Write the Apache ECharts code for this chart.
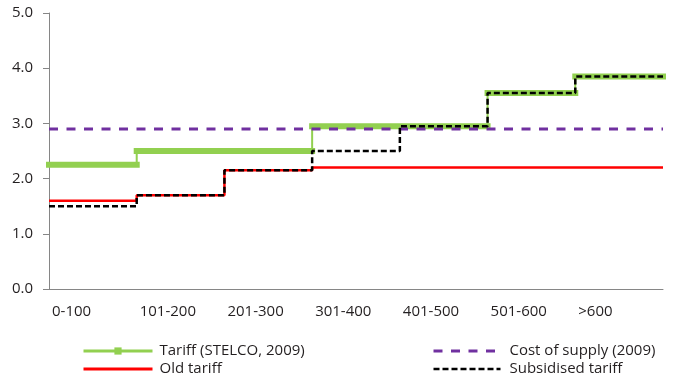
<!DOCTYPE html>
<html>
<head>
<meta charset="utf-8">
<script src="https://cdn.jsdelivr.net/npm/echarts@6/dist/echarts.min.js"></script>
<style>
  html, body { margin: 0; padding: 0; background: #fff; }
  #chart { width: 673px; height: 382px; }
</style>
</head>
<body>
<div id="chart"></div>
<script>
// Consumption bands (kWh per month) and tariffs per band
const bandLabels = ['0-100', '101-200', '201-300', '301-400', '401-500', '501-600', '>600'];
const tariffStelco = [2.25, 2.5, 2.5, 2.95, 2.95, 3.55, 3.85];
const oldTariff = [1.6, 1.7, 2.15, 2.2, 2.2, 2.2, 2.2];
const subsidisedTariff = [1.5, 1.7, 2.15, 2.5, 2.95, 3.55, 3.85];
const costOfSupply = [2.9, 2.9, 2.9, 2.9, 2.9, 2.9, 2.9];
const yTicks = [0, 1, 2, 3, 4, 5];

const FONT = "'Open Sans', sans-serif";
const TEXT = '#231f20';

// Step-line points: one point at the start of each band, plus the closing edge
function stepPoints(values) {
  const pts = values.map((v, i) => [i, v]);
  pts.push([values.length, values[values.length - 1]]);
  return pts;
}

// Separate horizontal pieces, one per band
function bandPieces(values) {
  const pts = [];
  values.forEach((v, i) => {
    pts.push([i, v], [i + 1, v], [i + 1, '-']);
  });
  return pts;
}

const legendBase = {
  top: 343,
  orient: 'vertical',
  padding: 0,
  itemHeight: 9,
  itemGap: 2,
  selectedMode: false
};

const chart = echarts.init(document.getElementById('chart'), null, { renderer: 'canvas' });

chart.setOption({
  animation: false,
  backgroundColor: '#fff',
  grid: { left: 49, right: 10, top: 13, bottom: 93 },
  xAxis: {
    type: 'value',
    min: 0,
    max: bandLabels.length,
    interval: 1,
    axisLine: { show: true, lineStyle: { color: '#868686', width: 1 } },
    axisTick: { show: false },
    splitLine: { show: false },
    axisLabel: {
      align: 'left',
      margin: 15,
      padding: [0, 0, 0, 3],
      fontFamily: FONT,
      fontSize: 15,
      color: TEXT,
      formatter: v => (bandLabels[v] !== undefined ? bandLabels[v] : '')
    }
  },
  yAxis: {
    type: 'value',
    min: yTicks[0],
    max: yTicks[yTicks.length - 1],
    interval: 1,
    axisLine: { show: true, lineStyle: { color: '#868686', width: 1 } },
    axisTick: { show: true, length: 6, lineStyle: { color: '#868686' } },
    splitLine: { show: false },
    axisLabel: {
      margin: 16,
      fontFamily: FONT,
      fontSize: 15,
      color: TEXT,
      formatter: v => v.toFixed(1)
    }
  },
  legend: [
    Object.assign({}, legendBase, {
      left: 82,
      itemWidth: 69,
      textStyle: { fontFamily: FONT, fontSize: 15, color: TEXT, lineHeight: 16, padding: [0, 0, 0, 2] },
      data: [
        { name: 'Tariff (STELCO, 2009)', lineStyle: { width: 3 } },
        { name: 'Old tariff', itemStyle: { opacity: 0 }, lineStyle: { width: 3 } }
      ]
    }),
    Object.assign({}, legendBase, {
      left: 432,
      itemWidth: 67,
      textStyle: { fontFamily: FONT, fontSize: 15, color: TEXT, lineHeight: 16, padding: [0, 0, 0, 4] },
      data: [
        { name: 'Cost of supply (2009)', itemStyle: { opacity: 0 }, lineStyle: { width: 3 } },
        { name: 'Subsidised tariff', itemStyle: { opacity: 0 }, lineStyle: { width: 2.5 } }
      ]
    })
  ],
  series: [
    {
      name: 'Tariff (STELCO, 2009)',
      type: 'line',
      step: 'end',
      data: stepPoints(tariffStelco),
      symbol: 'rect',
      symbolSize: 7,
      showSymbol: false,
      color: '#92d050',
      lineStyle: { color: '#92d050', width: 2 },
      z: 2
    },
    {
      name: 'Tariff bands',
      type: 'line',
      data: bandPieces(tariffStelco),
      symbol: 'none',
      clip: false,
      connectNulls: false,
      color: '#92d050',
      lineStyle: { color: '#92d050', width: 6, cap: 'square' },
      z: 2
    },
    {
      name: 'Cost of supply (2009)',
      type: 'line',
      step: 'end',
      data: stepPoints(costOfSupply),
      symbol: 'none',
      color: '#7030a0',
      lineStyle: { color: '#7030a0', width: 3, type: [9, 8.5] },
      z: 3
    },
    {
      name: 'Old tariff',
      type: 'line',
      step: 'end',
      data: stepPoints(oldTariff),
      symbol: 'none',
      color: '#ff0000',
      lineStyle: { color: '#ff0000', width: 2.5 },
      z: 4
    },
    {
      name: 'Subsidised tariff',
      type: 'line',
      step: 'end',
      data: stepPoints(subsidisedTariff),
      symbol: 'none',
      color: '#000000',
      lineStyle: { color: '#000000', width: 2.5, type: [6, 3] },
      z: 5
    }
  ]
});
</script>
</body>
</html>
